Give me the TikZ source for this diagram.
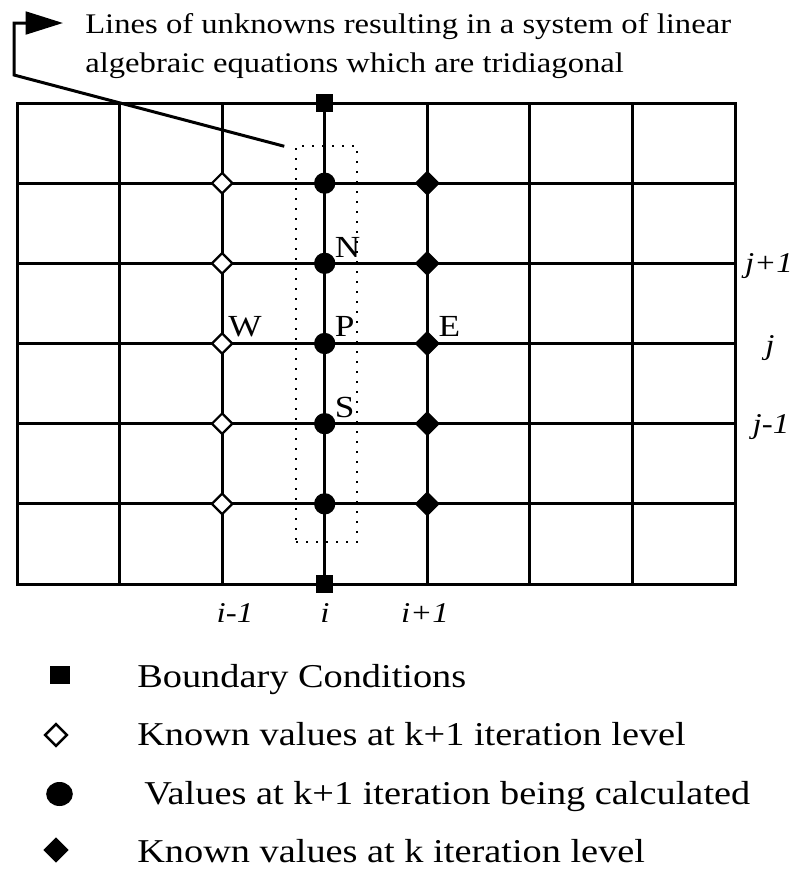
\documentclass[tikz,border=0pt]{standalone}
\usepackage{fontspec}
\setmainfont[FakeStretch=1.15]{Liberation Serif}
\usetikzlibrary{shapes.geometric,arrows.meta,calc}
\begin{document}
\begin{tikzpicture}[x=0.75pt,y=-0.75pt,
 gridline/.style={line width=2.25pt},
 bcnode/.style={rectangle,fill=black,minimum size=13pt,inner sep=0pt},
 knownnew/.style={diamond,draw=black,fill=white,line width=1.7pt,minimum size=16pt,inner sep=0pt},
 calcnode/.style={circle,fill=black,minimum size=16pt,inner sep=0pt},
 knownold/.style={diamond,fill=black,minimum size=19pt,inner sep=0pt},
 legbc/.style={rectangle,fill=black,minimum width=15.5pt,minimum height=13pt,inner sep=0pt},
 legknownnew/.style={diamond,draw=black,fill=white,line width=1.8pt,minimum size=17pt,inner sep=0pt},
 legcalc/.style={ellipse,fill=black,minimum width=20pt,minimum height=18pt,inner sep=0pt},
 legknownold/.style={diamond,fill=black,minimum size=19pt,inner sep=0pt},
 ptlabel/.style={inner sep=0pt,anchor=west,font=\fontsize{23pt}{23pt}\selectfont},
 idxlabel/.style={inner sep=0pt,anchor=base,font=\fontsize{21.5pt}{21.5pt}\selectfont\itshape},
 toptext/.style={inner sep=0pt,anchor=base west,font=\fontsize{21.3pt}{21.3pt}\selectfont},
 legtext/.style={inner sep=0pt,anchor=base west,font=\fontsize{25pt}{25pt}\selectfont},
 tribox/.style={draw,line width=1.1pt,dash pattern=on 1.5pt off 6pt,minimum width=45.75pt,minimum height=297pt,inner sep=0pt},
 leader/.style={line width=2.25pt,-{Triangle[length=28pt,width=17pt]}}
]
\useasboundingbox (0,0) rectangle (800,869);
\fill[white] (0,0) rectangle (800,869);

% grid
\draw[gridline] (17,103) rectangle (735,584);
\foreach \k in {1,...,6} \draw[gridline] ({17+102.571*\k},103) -- ({17+102.571*\k},584);
\foreach \m in {1,...,5} \draw[gridline] (17,{103+80.167*\m}) -- (735,{103+80.167*\m});

% line of unknowns
\node[tribox] (tri) at (326.5,344) {};

% markers
\foreach \m in {1,...,5} {
  \node[knownnew] (w\m) at (222.14,{103+80.167*\m}) {};
  \node[calcnode] (p\m) at (324.71,{103+80.167*\m}) {};
  \node[knownold] (e\m) at (427.28,{103+80.167*\m}) {};
}
\node[bcnode] (bt) at (324.71,103) {};
\node[bcnode] (bb) at (324.71,584) {};

% point labels
\node[ptlabel] (lN) at ($(p2)+(10,-16)$) {N};
\node[ptlabel] (lP) at ($(p3)+(10,-17)$) {P};
\node[ptlabel] (lS) at ($(p4)+(10,-16)$) {S};
\node[ptlabel] (lW) at ($(w3)+(6,-17)$) {W};
\node[ptlabel] (lE) at ($(e3)+(11,-17)$) {E};

% index labels
\node[idxlabel] (im) at (235,622) {i-1};
\node[idxlabel] (i0) at (325,622) {i};
\node[idxlabel] (ip) at (425,622) {i+1};
\node[idxlabel] (jp) at (769,272) {j+1};
\node[idxlabel] (j0) at (770,354) {j};
\node[idxlabel] (jm) at (771,433) {j-1};

% top text and leader
\node[toptext] (t1) at (85,33) {Lines of unknowns resulting in a system of linear};
\node[toptext] (t2) at (85,72) {algebraic equations which are tridiagonal};
\coordinate (bend1) at (14,75);
\coordinate (bend2) at (14,23);
\coordinate (tip) at (63,23);
\draw[leader] ($(tri.north west)+(-11,1)$) -- (bend1) -- (bend2) -- (tip);

% legend
\node[legbc] (lg1) at (60,675) {};
\node[legtext] (lt1) at (137,687) {Boundary Conditions};
\node[legknownnew] (lg2) at (56,735) {};
\node[legtext] (lt2) at (137,745) {Known values at k+1 iteration level};
\node[legcalc] (lg3) at (59.5,794) {};
\node[legtext] (lt3) at (144,804) {Values at k+1 iteration being calculated};
\node[legknownold] (lg4) at (56,850) {};
\node[legtext] (lt4) at (137,862) {Known values at k iteration level};
\end{tikzpicture}
\end{document}
